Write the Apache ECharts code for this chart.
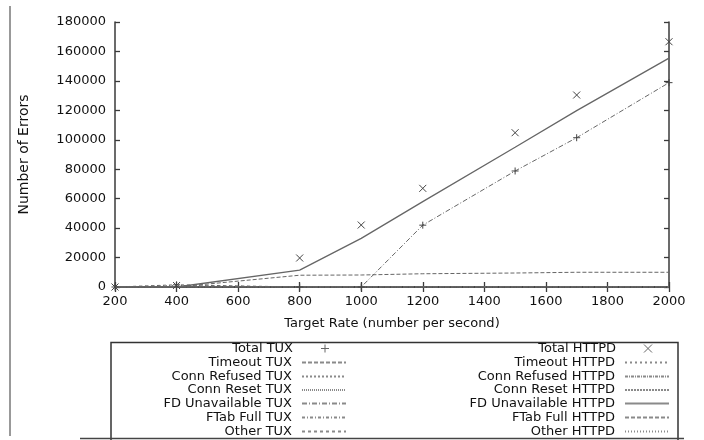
<!DOCTYPE html>
<html><head><meta charset="utf-8">
<script src="https://cdn.jsdelivr.net/npm/echarts@6/dist/echarts.min.js"></script>
<style>html,body{margin:0;padding:0;background:#fff}#c{width:704px;height:440px}</style>
</head><body><div id="c"></div>
<script>
const rates = [200, 400, 800, 1000, 1200, 1500, 1700, 2000];
const totalTux = [0, 1500, 0, 0, 42000, 78800, 101400, 138800];
const timeoutTux = [0, 0, 0, 0, 0, 0, 0, 0];
const connRefusedTux = [0, 0, 0, 0, 0, 0, 0, 0];
const connResetTux = [0, 0, 0, 0, 0, 0, 0, 0];
const fdUnavailTux = [0, 0, 0, 0, 42000, 78800, 101400, 138800];
const ftabFullTux = [0, 0, 0, 0, 0, 0, 0, 0];
const otherTux = [0, 1500, 0, 0, 0, 0, 0, 0];
const totalHttpd = [0, 1000, 19700, 42100, 67000, 104800, 130400, 166600];
const timeoutHttpd = [0, 0, 0, 0, 0, 0, 0, 0];
const connRefusedHttpd = [0, 0, 0, 0, 0, 0, 0, 0];
const connResetHttpd = [0, 0, 0, 0, 0, 0, 0, 0];
const fdUnavailHttpd = [0, 0, 11500, 33000, 58000, 94900, 119800, 155500];
const ftabFullHttpd = [0, 0, 8000, 8150, 9000, 9500, 10000, 10000];
const otherHttpd = [0, 1000, 0, 0, 0, 0, 0, 0];

const xTicks = [200, 400, 600, 800, 1000, 1200, 1400, 1600, 1800, 2000];
const yTicks = [0, 20000, 40000, 60000, 80000, 100000, 120000, 140000, 160000, 180000];
const xTitle = 'Target Rate (number per second)';
const yTitle = 'Number of Errors';

const FONT = 'DejaVu Sans';
const AX = '#3a3a3a';
const LC = '#666';
const PLUS = 'path://M5,0L5,10M0,5L10,5';
const CROSS = 'path://M0,0L10,10M10,0L0,10';

const defs = [
  {name: 'Total TUX', data: totalTux, marker: PLUS, col: 0},
  {name: 'Timeout TUX', data: timeoutTux, dash: [4, 2], col: 0},
  {name: 'Conn Refused TUX', data: connRefusedTux, dash: [2, 2], col: 0},
  {name: 'Conn Reset TUX', data: connResetTux, dash: [1, 1], col: 0},
  {name: 'FD Unavailable TUX', data: fdUnavailTux, dash: [5, 2, 1, 2], col: 0},
  {name: 'FTab Full TUX', data: ftabFullTux, dash: [3, 2, 1, 2], col: 0},
  {name: 'Other TUX', data: otherTux, dash: [3, 3], col: 0},
  {name: 'Total HTTPD', data: totalHttpd, marker: CROSS, col: 1},
  {name: 'Timeout HTTPD', data: timeoutHttpd, dash: [2, 3], col: 1},
  {name: 'Conn Refused HTTPD', data: connRefusedHttpd, dash: [3, 1, 1, 1], col: 1},
  {name: 'Conn Reset HTTPD', data: connResetHttpd, dash: [2, 1], col: 1},
  {name: 'FD Unavailable HTTPD', data: fdUnavailHttpd, dash: 'solid', col: 1},
  {name: 'FTab Full HTTPD', data: ftabFullHttpd, dash: [4, 2], col: 1},
  {name: 'Other HTTPD', data: otherHttpd, dash: [1, 2], col: 1}
];

const series = defs.map(d => {
  const s = {
    name: d.name, type: 'line', xAxisIndex: 0, yAxisIndex: 0,
    data: rates.map((r, i) => [r, d.data[i]]),
    animation: false, silent: true, color: LC
  };
  if (d.marker) {
    s.symbol = d.marker; s.symbolSize = 7; s.showSymbol = true;
    s.itemStyle = {color: 'none', borderColor: '#444', borderWidth: 1};
    s.lineStyle = {width: 0};
  } else {
    s.symbol = 'none';
    s.lineStyle = {color: LC, width: d.dash === 'solid' ? 1.3 : 1, type: d.dash};
  }
  return s;
});

const rowCenters = [349, 363, 377, 390.5, 404, 418, 432];
const legends = defs.map((d, i) => {
  const row = i % 7;
  const lg = {
    data: [d.name], orient: 'horizontal', align: 'right',
    right: d.col === 0 ? 357 : 34, top: rowCenters[row] - 7,
    itemWidth: 44, itemHeight: 10, padding: 0, itemGap: 0,
    selectedMode: false,
    textStyle: {fontFamily: FONT, fontSize: 13, color: '#111', padding: [0, 5, 0, 0]}
  };
  if (!d.marker) {
    lg.itemStyle = {opacity: 0};
    lg.lineStyle = {color: '#8a8a8a'};
  } else {
    lg.itemStyle = {color: 'none', borderColor: '#666', borderWidth: 1};
  }
  return lg;
});

const plain = v => String(v);
const axisCommon = {
  axisLine: {show: true, lineStyle: {color: AX, width: 1.5}},
  axisTick: {show: true, inside: true, length: 5, lineStyle: {color: AX, width: 1.3}},
  splitLine: {show: false}
};

const chart = echarts.init(document.getElementById('c'), null, {renderer: 'canvas'});
chart.setOption({
  backgroundColor: '#fff',
  animation: false,
  grid: {left: 115, right: 35, top: 22, bottom: 153, containLabel: false},
  xAxis: [
    Object.assign({type: 'value', min: xTicks[0], max: xTicks[xTicks.length - 1], interval: 200,
      position: 'bottom', name: xTitle, nameLocation: 'middle', nameGap: 30,
      nameTextStyle: {fontFamily: FONT, fontSize: 13, color: '#111'},
      axisLabel: {fontFamily: FONT, fontSize: 13, color: '#111', margin: 8, formatter: plain}}, axisCommon),
    Object.assign({type: 'value', min: xTicks[0], max: xTicks[xTicks.length - 1], interval: 200,
      position: 'top', axisLabel: {show: false}}, axisCommon)
  ],
  yAxis: [
    Object.assign({type: 'value', min: yTicks[0], max: yTicks[yTicks.length - 1], interval: 20000,
      position: 'left', name: yTitle, nameLocation: 'middle', nameGap: 84, nameRotate: 90,
      nameTextStyle: {fontFamily: FONT, fontSize: 14, color: '#111'},
      axisLabel: {fontFamily: FONT, fontSize: 13, color: '#111', margin: 9, formatter: plain}}, axisCommon),
    Object.assign({type: 'value', min: yTicks[0], max: yTicks[yTicks.length - 1], interval: 20000,
      position: 'right', axisLabel: {show: false}}, axisCommon)
  ],
  legend: legends,
  graphic: [
    {type: 'rect', shape: {x: 111, y: 342.5, width: 567, height: 100}, style: {fill: 'none', stroke: '#333', lineWidth: 1.5}, silent: true},
    {type: 'line', shape: {x1: 10, y1: 6, x2: 10, y2: 436}, style: {stroke: '#555', lineWidth: 1.2}, silent: true},
    {type: 'line', shape: {x1: 80, y1: 438.5, x2: 684, y2: 438.5}, style: {stroke: '#444', lineWidth: 1.5}, silent: true}
  ],
  series: series
});
</script></body></html>
